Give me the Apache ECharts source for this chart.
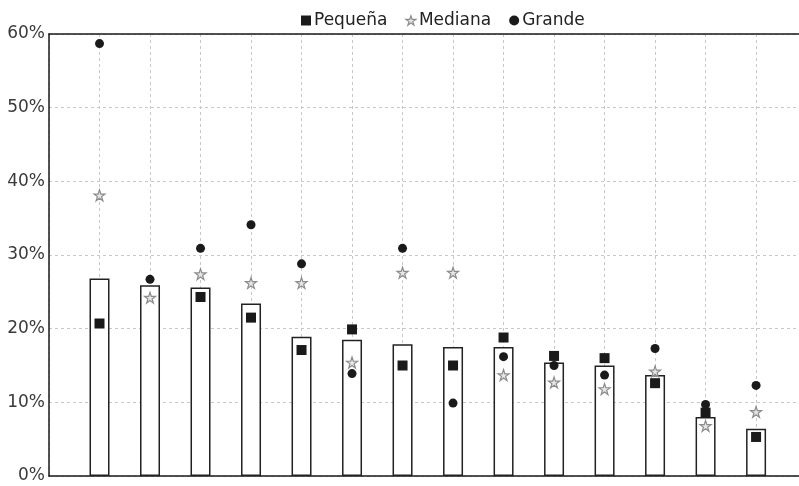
<!DOCTYPE html>
<html>
<head>
<meta charset="utf-8">
<script src="https://cdn.jsdelivr.net/npm/echarts@6/dist/echarts.min.js"></script>
<style>
html,body{margin:0;padding:0;background:#fff;}
#chart{width:799px;height:486px;}
</style>
</head>
<body>
<div id="chart"></div>
<script>
// Data (percent values)
var categories = ['1','2','3','4','5','6','7','8','9','10','11','12','13','14'];
var totalBars  = [26.8, 25.9, 25.6, 23.4, 18.9, 18.5, 17.9, 17.5, 17.5, 15.4, 15.0, 13.7, 8.0, 6.4];
var pequena    = [20.7, null, 24.3, 21.5, 17.1, 19.9, 15.0, 15.0, 18.8, 16.3, 16.0, 12.6, 8.6, 5.3];
var mediana    = [38.1, 24.2, 27.4, 26.2, 26.2, 15.4, 27.6, 27.6, 13.7, 12.7, 11.8, 14.2, 6.8, 8.7];
var grande     = [58.7, 26.7, 30.9, 34.1, 28.8, 13.9, 30.9, 9.9, 16.2, 15.0, 13.7, 17.3, 9.7, 12.3];
var yTicks     = [0, 10, 20, 30, 40, 50, 60];
var seriesNames = ['Pequeña', 'Mediana', 'Grande'];

var FONT = 'DejaVu Sans';
var STAR = 'path://M50,0 L61.8,35.1 L98.9,35.1 L68.8,56.8 L80.3,91.9 L50,70.2 L19.7,91.9 L31.2,56.8 L1.1,35.1 L38.2,35.1 Z';

function toXY(arr) {
  return arr.map(function (v, i) { return [i + 1, v]; });
}

var chart = echarts.init(document.getElementById('chart'), null, {renderer: 'canvas'});
chart.setOption({
  animation: false,
  backgroundColor: '#fff',
  textStyle: {fontFamily: FONT},
  legend: {
    left: 296,
    top: 7,
    itemGap: 18,
    itemWidth: 10,
    itemHeight: 10,
    textStyle: {fontFamily: FONT, fontSize: 17, color: '#222', padding: [0, 0, 0, -2]},
    data: [
      {name: seriesNames[0], icon: 'rect', itemStyle: {color: '#1a1a1a'}},
      {name: seriesNames[1], icon: STAR, itemStyle: {color: '#e6e6e6', borderColor: '#8c8c8c', borderWidth: 1.2}},
      {name: seriesNames[2], icon: 'circle', itemStyle: {color: '#1a1a1a'}}
    ]
  },
  grid: {left: 49, right: 0, top: 34, bottom: 10, containLabel: false},
  xAxis: [{
    type: 'value',
    min: 0,
    max: categories.length + 0.85,
    interval: 1,
    axisLine: {show: true, onZero: false, lineStyle: {color: '#1a1a1a', width: 1.5}},
    axisTick: {show: false},
    axisLabel: {show: false},
    splitLine: {show: true, lineStyle: {color: '#c8c8c8', type: [3, 3], width: 1}}
  }, {
    type: 'value',
    position: 'top',
    min: 0,
    max: 1,
    axisLine: {show: true, onZero: false, lineStyle: {color: '#1a1a1a', width: 1.5}},
    axisTick: {show: false},
    axisLabel: {show: false},
    splitLine: {show: false}
  }],
  yAxis: {
    type: 'value',
    min: yTicks[0],
    max: yTicks[yTicks.length - 1],
    interval: 10,
    axisLine: {show: true, lineStyle: {color: '#1a1a1a', width: 1.5}},
    axisTick: {show: false},
    axisLabel: {formatter: '{value}%', fontFamily: FONT, fontSize: 17, color: '#3a3a3a', margin: 4},
    splitLine: {show: true, lineStyle: {color: '#c8c8c8', type: [3, 3], width: 1}}
  },
  series: [{
    type: 'bar',
    name: 'Total',
    data: toXY(totalBars),
    barWidth: 20,
    itemStyle: {color: '#fff', borderColor: '#222', borderWidth: 1.5},
    z: 2
  }, {
    type: 'scatter',
    name: seriesNames[0],
    data: toXY(pequena),
    symbol: 'rect',
    symbolSize: 10,
    itemStyle: {color: '#1a1a1a', opacity: 1},
    z: 3
  }, {
    type: 'scatter',
    name: seriesNames[1],
    data: toXY(mediana),
    symbol: STAR,
    symbolSize: 11,
    itemStyle: {color: '#e6e6e6', borderColor: '#8c8c8c', borderWidth: 1.2, opacity: 1},
    z: 4
  }, {
    type: 'scatter',
    name: seriesNames[2],
    data: toXY(grande),
    symbol: 'circle',
    symbolSize: 9,
    itemStyle: {color: '#1a1a1a', opacity: 1},
    z: 5
  }]
});
</script>
</body>
</html>
